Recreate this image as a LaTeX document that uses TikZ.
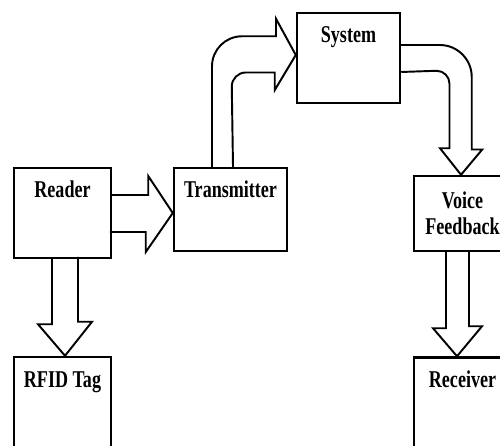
\documentclass[tikz,border=0pt]{standalone}
\usepackage{fontspec}
\setmainfont{Liberation Serif}[FakeStretch=0.75]
\usepackage{tikz}
\tikzstyle{block} = [rectangle, draw, line width=1.4pt, inner sep=0pt, minimum width=1.94cm, font=\fontsize{13.7}{14.7}\selectfont\bfseries]
\tikzstyle{toptext} = [text height=0.6cm, text depth=1.2cm]
\tikzstyle{blockarrow} = [line width=1.1pt, line join=miter]

\begin{document}
\begin{tikzpicture}[node distance=3.78cm]
        \useasboundingbox (0,0) rectangle (10,-8.9);
        \clip (0,0) rectangle (10,-8.9);

        \node (reader) [block, toptext] at (1.25,-4.26) {Reader};
        \node (tag) [block, toptext, below of=reader] {RFID Tag};
        \node (trans) [block, toptext, text depth=1.06cm, minimum width=2.26cm, right of=reader, xshift=-0.42cm, yshift=0.07cm] {Transmitter};
        \node (system) [block, toptext, minimum width=2.06cm, above of=trans, xshift=2.36cm, yshift=-0.75cm] {System};
        \node (voice) [block, align=center, minimum height=1.5cm, right of=trans, xshift=0.86cm, yshift=-0.08cm] {Voice\\Feedback};
        \node (receiver) [block, toptext, below of=voice] {Receiver};

        \draw [blockarrow] ([yshift=0.36cm]reader.east) -- ++(0.72,0) -- ++(0,0.38) -- (trans.west |- reader.east) -- ++(-0.54,-0.78) -- ++(0,0.40) -- ++(-0.72,0);
        \draw [blockarrow] ([xshift=-0.21cm]reader.south) -- ++(0,-1.30) -- ++(-0.28,0) -- ([xshift=0.05cm]tag.north) -- ++(0.54,0.68) -- ++(-0.28,0) -- ++(0,1.30);
        \draw [blockarrow] ([xshift=-0.37cm]trans.north) -- ++(0,2.01) arc[start angle=180, end angle=90, radius=0.6cm] -- ++(0.68,0) -- ++(0,0.35) -- ([yshift=0.06cm]system.west) -- ++(-0.42,-0.70) -- ++(0,0.35) -- ++(-0.58,0) arc[start angle=90, end angle=180, radius=0.28cm] -- ([xshift=0.05cm]trans.north);
        \draw [blockarrow] ([yshift=0.26cm]system.east) -- ++(0.77,0) arc[start angle=90, end angle=0, radius=0.64cm] -- ++(0,-1.45) -- ++(0.21,0) -- ([xshift=-0.03cm]voice.north) -- ++(-0.42,0.53) -- ++(0.19,0) -- ++(0,1.29) arc[start angle=0, end angle=90, radius=0.26cm] -- ([yshift=-0.28cm]system.east);
        \draw [blockarrow] ([xshift=-0.33cm]voice.south) -- ++(0,-1.52) -- ++(-0.26,0) -- ([xshift=-0.11cm]receiver.north) -- ++(0.50,0.60) -- ++(-0.26,0) -- ++(0,1.52);
    \end{tikzpicture}
\end{document}
